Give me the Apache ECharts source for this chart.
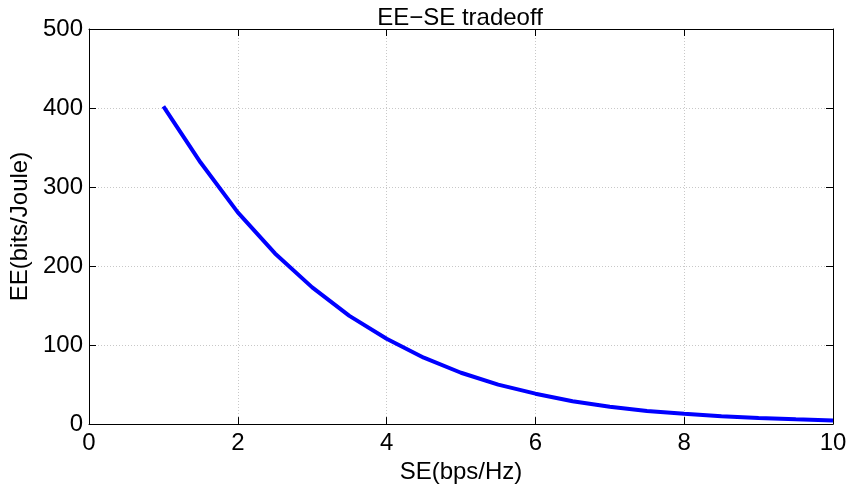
<!DOCTYPE html>
<html>
<head>
<meta charset="utf-8">
<script src="https://cdn.jsdelivr.net/npm/echarts@6/dist/echarts.min.js"></script>
<style>html,body{margin:0;padding:0;background:#fff}#c{width:852px;height:489px}</style>
</head>
<body>
<div id="c"></div>
<script>
const seValues = [1, 1.5, 2, 2.5, 3, 3.5, 4, 4.5, 5, 5.5, 6, 6.5, 7, 7.5, 8, 8.5, 9, 9.5, 10];
const eeValues = [402, 331, 268, 216, 173, 137, 108, 84, 65, 50, 38.5, 29, 22, 16.5, 13, 10, 7.8, 6, 4.7];
const titleText = 'EE\u2212SE tradeoff';
const xName = 'SE(bps/Hz)';
const yName = 'EE(bits/Joule)';

const chart = echarts.init(document.getElementById('c'), null, {renderer: 'canvas'});
const font = '"Liberation Sans", Arial, Helvetica, sans-serif';
const axisCommon = {
  axisLine: {show: true, onZero: false, lineStyle: {color: '#000', width: 1}},
  axisTick: {show: true, inside: true, length: 7, lineStyle: {color: '#000'}},
  splitLine: {show: false}
};
chart.setOption({
  animation: false,
  title: {text: titleText, left: 455, top: 1, textAlign: 'center',
    textStyle: {fontFamily: font, fontSize: 24, fontWeight: 'normal', color: '#000'}},
  grid: {left: 89, top: 29, width: 744, height: 398, show: false},
  xAxis: [
    Object.assign({type: 'value', min: 0, max: 10, interval: 2, position: 'bottom',
      name: xName, nameLocation: 'middle', nameGap: 30,
      nameTextStyle: {fontFamily: font, fontSize: 24, color: '#000'},
      axisLabel: {fontFamily: font, fontSize: 24, color: '#000', margin: 7},
      splitLine: {show: true, lineStyle: {color: '#c8c8c8', type: [1, 2], width: 1}}}, {
      axisLine: axisCommon.axisLine, axisTick: axisCommon.axisTick}),
    Object.assign({type: 'value', min: 0, max: 10, interval: 2, position: 'top',
      axisLabel: {show: false}}, axisCommon)
  ],
  yAxis: [
    Object.assign({type: 'value', min: 0, max: 500, interval: 100, position: 'left',
      name: yName, nameLocation: 'middle', nameGap: 51,
      nameTextStyle: {fontFamily: font, fontSize: 24, color: '#000'},
      axisLabel: {fontFamily: font, fontSize: 24, color: '#000', margin: 6},
      splitLine: {show: true, lineStyle: {color: '#c8c8c8', type: [1, 2], width: 1}}}, {
      axisLine: axisCommon.axisLine, axisTick: axisCommon.axisTick}),
    Object.assign({type: 'value', min: 0, max: 500, interval: 100, position: 'right',
      axisLabel: {show: false}}, axisCommon)
  ],
  series: [{
    type: 'line',
    data: seValues.map((x, i) => [x, eeValues[i]]),
    showSymbol: false,
    lineStyle: {color: '#0000ff', width: 4},
    xAxisIndex: 0, yAxisIndex: 0
  }]
});
</script>
</body>
</html>
